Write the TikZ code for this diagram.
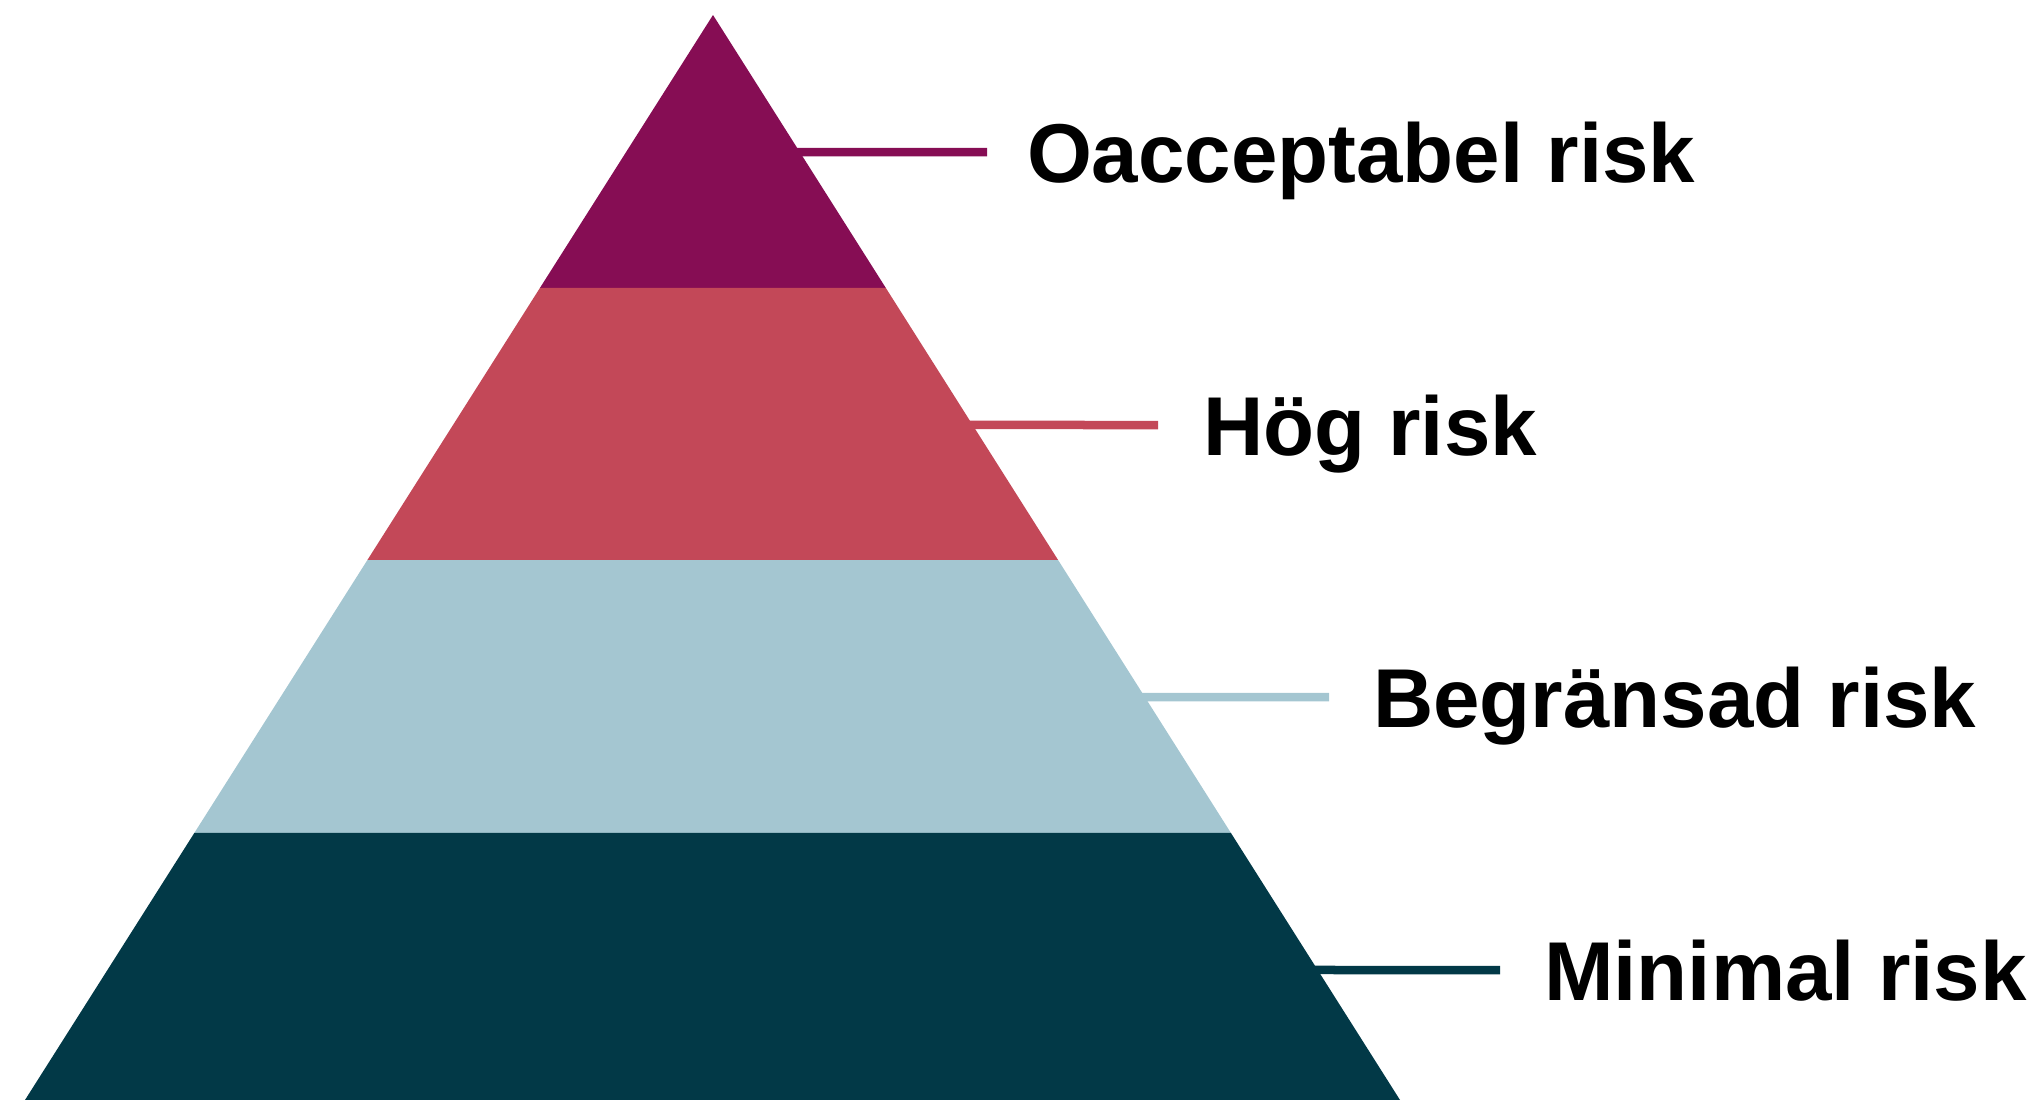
\documentclass[tikz,border=0pt]{standalone}
\usepackage{fontspec}
\setmainfont{Liberation Sans}
\usetikzlibrary{calc}
\definecolor{cOne}{RGB}{134,13,84}
\definecolor{cTwo}{RGB}{195,72,88}
\definecolor{cThree}{RGB}{164,198,209}
\definecolor{cFour}{RGB}{2,57,71}
\tikzset{
  lbl/.style={anchor=west,inner sep=0pt,outer sep=0pt,text height=60pt,text depth=0pt,
    font=\fontsize{83.5}{100}\selectfont\bfseries},
  leader/.style={line width=8.5pt}
}
\begin{document}
\begin{tikzpicture}[x=1pt,y=-1pt]
\useasboundingbox (0,0) rectangle (2043,1100);
\coordinate (A) at (713,15);
\coordinate (BL) at (25,1100);
\coordinate (BR) at (1400,1100);
% band boundaries
\coordinate (L1) at ($(A)!0.2516!(BL)$);
\coordinate (R1) at ($(A)!0.2516!(BR)$);
\coordinate (L2) at ($(A)!0.5023!(BL)$);
\coordinate (R2) at ($(A)!0.5023!(BR)$);
\coordinate (L3) at ($(A)!0.7539!(BL)$);
\coordinate (R3) at ($(A)!0.7539!(BR)$);
\fill[cOne] (A) -- (R1) -- (L1) -- cycle;
\fill[cTwo] (L1) -- (R1) -- (R2) -- (L2) -- cycle;
\fill[cThree] (L2) -- (R2) -- (R3) -- (L3) -- cycle;
\fill[cFour] (L3) -- (R3) -- (BR) -- (BL) -- cycle;
% edge points for leaders
\coordinate (E1) at ($(A)!{(152-15)/1085}!(BR)$);
\coordinate (E2) at ($(A)!{(425-15)/1085}!(BR)$);
\coordinate (E3) at ($(A)!{(697-15)/1085}!(BR)$);
\coordinate (E4) at ($(A)!{(970-15)/1085}!(BR)$);
% labels
\node[lbl] (t1) at (1027,152) {Oacceptabel risk};
\node[lbl] (t2) at (1203,425) {Hög risk};
\node[lbl] (t3) at (1373,697) {Begränsad risk};
\node[lbl] (t4) at (1544,970) {Minimal risk};
% leaders
\draw[leader,cOne] ([xshift=-3pt]E1) -- ([xshift=-40pt]t1.west);
\draw[leader,cTwo] ([xshift=-3pt]E2) -- ([xshift=-45pt]t2.west);
\draw[leader,cThree] ([xshift=-3pt]E3) -- ([xshift=-44pt]t3.west);
\draw[leader,cFour] ([xshift=-3pt]E4) -- ([xshift=-44pt]t4.west);
\end{tikzpicture}
\end{document}
